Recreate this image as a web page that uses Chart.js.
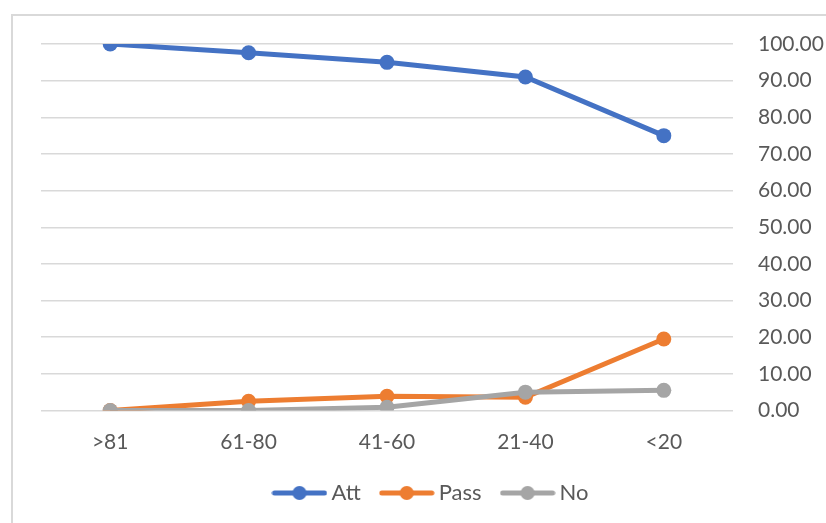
<!DOCTYPE html>
<html>
<head>
<meta charset="utf-8">
<script src="https://cdn.jsdelivr.net/npm/chart.js@4/dist/chart.umd.min.js"></script>
<style>
  html, body { margin: 0; padding: 0; background: #ffffff; }
  #wrap { position: relative; width: 826px; height: 523px; overflow: hidden; }
  #frame {
    position: absolute; left: 11px; top: 14px; width: 900px; height: 600px;
    border-left: 2px solid #d9d9d9; border-top: 2px solid #d9d9d9; box-sizing: border-box;
  }
  canvas { position: absolute; left: 0; top: 0; }
</style>
</head>
<body>
<div id="wrap">
  <div id="frame"></div>
  <canvas id="chart" width="826" height="523"></canvas>
</div>
<script>
// Score bands along the horizontal axis
const categories = ['>81', '61-80', '41-60', '21-40', '<20'];

// Percentages per band
const attValues  = [100, 97.6, 95.0, 91.0, 75.0];
const passValues = [0, 2.5, 3.9, 3.6, 19.5];
const noValues   = [0, 0, 0.9, 5.0, 5.5];

const seriesNames  = ['Att', 'Pass', 'No'];
const seriesColors = ['#4472C4', '#ED7D31', '#A5A5A5'];

const FONT = 'Lato, "Liberation Sans", sans-serif';
const TEXT = '#595959';

// Legend swatch: a short line with a round marker in the middle
function legendSwatch(color) {
  const c = document.createElement('canvas');
  c.width = 56; c.height = 16;
  const g = c.getContext('2d');
  g.strokeStyle = color;
  g.lineWidth = 5;
  g.lineCap = 'round';
  g.beginPath(); g.moveTo(3, 8); g.lineTo(53, 8); g.stroke();
  g.fillStyle = color;
  g.beginPath(); g.arc(28, 8, 7, 0, Math.PI * 2); g.fill();
  return c;
}

function makeSeries(i, values, order) {
  return {
    label: seriesNames[i],
    data: values,
    borderColor: seriesColors[i],
    backgroundColor: seriesColors[i],
    borderWidth: 5,
    pointStyle: 'circle',
    pointRadius: 7.5,
    pointHoverRadius: 7.5,
    pointBackgroundColor: seriesColors[i],
    pointBorderColor: seriesColors[i],
    pointBorderWidth: 0,
    tension: 0,
    order: order
  };
}

const chart = new Chart(document.getElementById('chart'), {
  type: 'line',
  data: {
    labels: categories,
    datasets: [
      makeSeries(0, attValues, 2),
      makeSeries(1, passValues, 1),
      makeSeries(2, noValues, 0)
    ]
  },
  options: {
    responsive: false,
    animation: false,
    events: [],
    layout: { padding: { left: 41, top: 44, right: 0, bottom: 9 } },
    plugins: {
      tooltip: { enabled: false },
      legend: {
        position: 'bottom',
        labels: {
          usePointStyle: true,
          pointStyleWidth: 42,
          padding: 25,
          color: TEXT,
          font: { family: FONT, size: 22 },
          generateLabels(ch) {
            return ch.data.datasets.map((ds, i) => ({
              text: ds.label,
              fillStyle: ds.borderColor,
              strokeStyle: ds.borderColor,
              lineWidth: 0,
              pointStyle: legendSwatch(ds.borderColor),
              fontColor: TEXT,
              hidden: false,
              datasetIndex: i
            }));
          }
        }
      }
    },
    scales: {
      x: {
        offset: true,
        grid: { display: false, drawTicks: false },
        border: { display: false },
        ticks: { color: TEXT, font: { family: FONT, size: 21 }, padding: 19, maxRotation: 0 },
        afterFit(scale) { scale.height = 46.5; }
      },
      y: {
        position: 'right',
        min: 0,
        max: 100,
        grid: { color: '#d9d9d9', lineWidth: 1.5, drawTicks: false },
        border: { display: false },
        ticks: {
          stepSize: 10,
          padding: 25,
          color: TEXT,
          font: { family: FONT, size: 21 },
          callback: (v) => Number(v).toFixed(2)
        },
        afterFit(scale) { scale.width = 93; }
      }
    }
  }
});
</script>
</body>
</html>
